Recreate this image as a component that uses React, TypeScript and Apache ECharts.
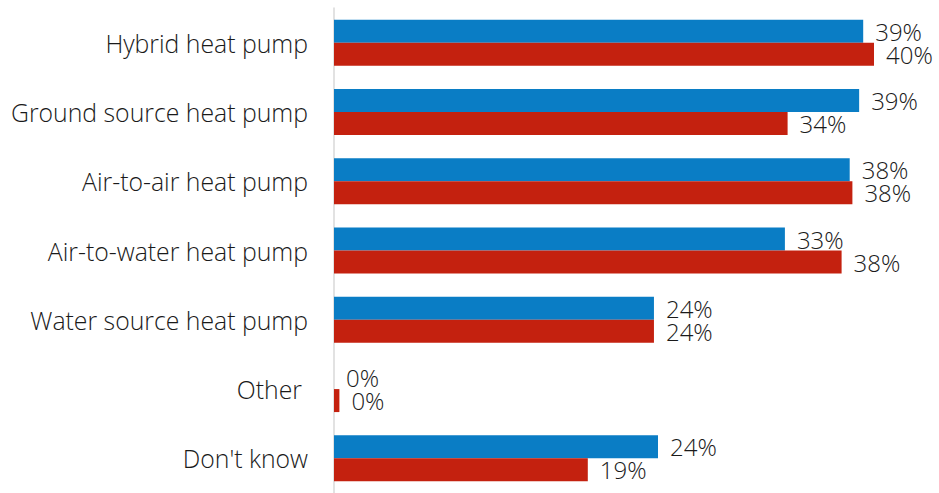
import React, { useEffect, useRef } from "react";
import * as echarts from "echarts";

const categories = [
  "Hybrid heat pump",
  "Ground source heat pump",
  "Air-to-air heat pump",
  "Air-to-water heat pump",
  "Water source heat pump",
  "Other",
  "Don't know",
];
const blueValues = [39.2, 38.9, 38.2, 33.4, 23.7, 0, 24.0];
const redValues = [40.0, 33.6, 38.4, 37.6, 23.7, 0.4, 18.8];

const FONT = "'Open Sans', sans-serif";
const TEXT = "#1a1a1a";

export default function App() {
  const ref = useRef<HTMLDivElement>(null);
  useEffect(() => {
    if (!ref.current) return;
    const chart = echarts.init(ref.current, null, { renderer: "svg" });
    const label = {
      show: true,
      position: "right",
      distance: 12,
      formatter: (p: any) => Math.round(p.value) + "%",
      fontFamily: FONT,
      fontWeight: 300,
      fontSize: 24,
      lineHeight: 22,
      color: TEXT,
    };
    chart.setOption({
      animation: false,
      grid: { left: 334, right: 11, top: 8, bottom: -3, containLabel: false },
      xAxis: {
        type: "value",
        min: 0,
        max: 44,
        show: false,
      },
      yAxis: {
        type: "category",
        data: categories,
        inverse: true,
        axisLine: { show: true, lineStyle: { color: "#d9d9d9", width: 1.5 } },
        axisTick: { show: false },
        axisLabel: {
          margin: 26,
          fontFamily: FONT,
          fontWeight: 300,
          fontSize: 24.8,
          color: TEXT,
          formatter: (v: string) => (v === "Other" ? "{o|Other}" : v),
          rich: {
            o: { fontFamily: FONT, fontWeight: 300, fontSize: 24.8, color: TEXT, padding: [0, 6, 0, 0] },
          },
        },
        splitLine: { show: false },
      },
      series: [
        {
          name: "Blue",
          type: "bar",
          data: blueValues,
          barWidth: 23,
          barGap: "0%",
          itemStyle: { color: "#0A7DC5" },
          label,
        },
        {
          name: "Red",
          type: "bar",
          data: redValues,
          barWidth: 23,
          barGap: "0%",
          itemStyle: { color: "#C4210F" },
          label,
        },
      ],
    });
    return () => chart.dispose();
  }, []);
  return (
    <div
      ref={ref}
      style={{ position: "fixed", left: 0, top: 0, width: 939, height: 493, background: "#fff" }}
    />
  );
}
